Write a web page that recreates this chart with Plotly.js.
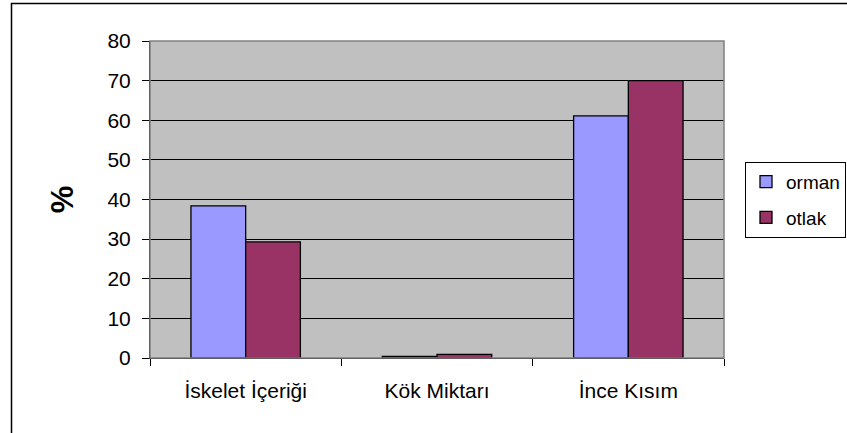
<!DOCTYPE html>
<html>
<head>
<meta charset="utf-8">
<script src="https://cdn.plot.ly/plotly-3.0.1.min.js"></script>
<style>
  html, body { margin: 0; padding: 0; background: #fff; }
  #chart { width: 847px; height: 433px; }
</style>
</head>
<body>
<div id="chart"></div>
<script>
// Soil fraction shares (%) under forest (orman) and pasture (otlak)
const categories = ["İskelet İçeriği", "Kök Miktarı", "İnce Kısım"];
const ormanValues = [38.4, 0.4, 61.1];
const otlakValues = [29.3, 0.9, 70.0];
const yTicks = [0, 10, 20, 30, 40, 50, 60, 70, 80];

const FONT = "'Liberation Sans', Arial, sans-serif";

const traces = [
  {
    type: "bar", name: "orman", x: categories, y: ormanValues,
    legendgroup: "a",
    marker: { color: "#9999FF", line: { color: "#000", width: 1.3 } }
  },
  {
    type: "bar", name: "otlak", x: categories, y: otlakValues,
    legendgroup: "b",
    marker: { color: "#993366", line: { color: "#000", width: 1.3 } }
  }
];

// plot area spans 150..724 px horizontally, 41..358.5 px vertically
const L = 150, R = 724, T = 41, B = 358.5;
const pw = R - L, ph = B - T;
const px = v => (v - L) / pw;
const py = v => (B - v) / ph;

const layout = {
  width: 847, height: 433,
  margin: { l: L, r: 847 - R, t: T, b: 433 - B, pad: 0, autoexpand: false },
  paper_bgcolor: "#fff",
  plot_bgcolor: "#C0C0C0",
  font: { family: FONT, color: "#000" },
  barmode: "group",
  bargap: 0.428,
  bargroupgap: 0,
  showlegend: true,
  legend: {
    x: px(745), xanchor: "left",
    y: py(162), yanchor: "top",
    bgcolor: "#fff", bordercolor: "#000", borderwidth: 1,
    font: { family: FONT, size: 19, color: "#000" },
    tracegroupgap: 8,
    itemwidth: 30
  },
  xaxis: {
    type: "category",
    tickson: "boundaries",
    ticks: "outside", ticklen: 7, tickcolor: "#000", tickwidth: 1,
    showline: true, linecolor: "#000", linewidth: 1,
    showgrid: false, zeroline: false,
    tickfont: { family: FONT, size: 21, color: "#000" },
    ticklabelstandoff: 14,
    fixedrange: true
  },
  yaxis: {
    range: [0, 80],
    tickvals: yTicks,
    ticktext: yTicks.map(String),
    ticks: "outside", ticklen: 7, tickcolor: "#000", tickwidth: 1,
    showline: true, linecolor: "#000", linewidth: 1,
    showgrid: true, gridcolor: "#000", gridwidth: 1,
    zeroline: false,
    tickfont: { family: FONT, size: 21, color: "#000" },
    ticklabelstandoff: 7,
    title: { text: "%", font: { family: FONT, size: 31, weight: "bold", color: "#000" }, standoff: 24 },
    automargin: false,
    fixedrange: true
  },
  shapes: [
    // frame around the plot area (top and right edges)
    { type: "rect", xref: "paper", yref: "paper", x0: 0, x1: 1, y0: 0, y1: 1,
      line: { color: "#808080", width: 1.5 }, fillcolor: "rgba(0,0,0,0)", layer: "above" },
    // outer chart border
    { type: "rect", xref: "paper", yref: "paper",
      x0: px(11.5), x1: px(900), y0: py(480), y1: py(3.5),
      line: { color: "#000", width: 1.5 }, fillcolor: "rgba(0,0,0,0)", layer: "below" }
  ]
};

Plotly.newPlot("chart", traces, layout, { displayModeBar: false, staticPlot: true });
</script>
</body>
</html>
